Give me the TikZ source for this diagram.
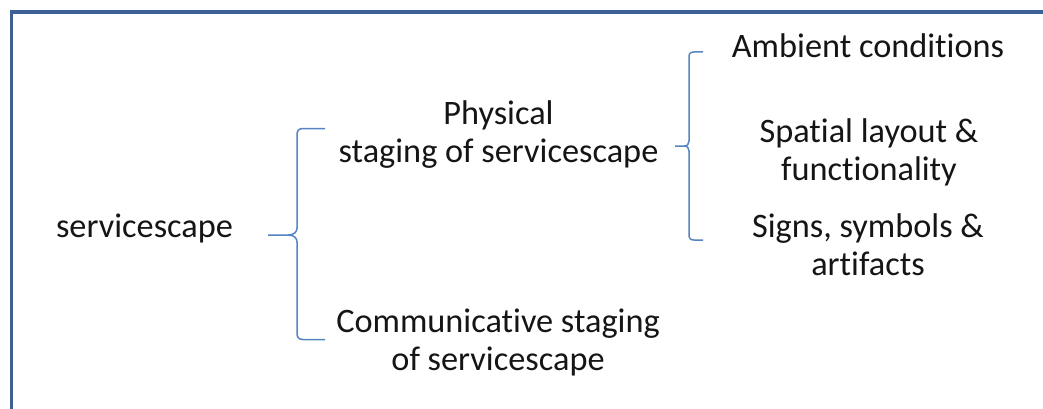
\documentclass[tikz,border=0pt]{standalone}
\usepackage{fontspec}
\setmainfont[Ligatures={NoCommon}]{Carlito}
\definecolor{framec}{HTML}{3D6197}
\definecolor{bracec}{HTML}{5584C2}
\definecolor{inkc}{HTML}{151515}
\begin{document}
\begin{tikzpicture}[x=1pt,y=-1pt,
  lbl/.style={inner sep=0pt, anchor=base, align=center, text=inkc,
    font=\fontsize{34.3}{38}\selectfont},
  bracket/.style={draw=bracec, line width=1.5pt, line join=round},
  frameline/.style={draw=framec, line width=3.2pt}]
\useasboundingbox (0,0) rectangle (1043,409);
\clip (0,0) rectangle (1043,409);
% outer frame (only its top and left sides fall inside the page)
\draw[frameline] (1060,12) -- (11.5,12) -- (11.5,430);

% texts (for two-line labels the base anchor sits on the last line)
\node[lbl] (root) at (144.5,237) {servicescape};
\node[lbl] (phys) at (498.5,162) {Physical\\staging of servicescape};
\node[lbl] (comm) at (498,370) {Communicative staging\\of servicescape};
\node[lbl] (amb)  at (868,58)  {Ambient conditions};
\node[lbl] (spat) at (869,180) {Spatial layout \&\\functionality};
\node[lbl] (sign) at (868,275) {Signs, symbols \&\\artifacts};

% brace joining the root to its two kinds of staging
\coordinate (b1top) at (325,128.5);
\coordinate (b1bot) at (325,339.5);
\coordinate (b1tip) at (268,235);
\draw[bracket] (b1top) -- (303,128.5) .. controls (299,128.5) and (297,130.5) .. (297,134.5)
  -- (297,228) .. controls (297,232) and (294,235) .. (288,235) -- (b1tip);
\draw[bracket] (288,235) .. controls (294,235) and (297,238) .. (297,242)
  -- (297,333.5) .. controls (297,337.5) and (299,339.5) .. (303,339.5) -- (b1bot);

% brace joining physical staging to its three dimensions
\coordinate (b2top) at (703,52);
\coordinate (b2bot) at (703,240);
\coordinate (b2tip) at (675,146);
\draw[bracket] (b2top) -- (694,52) .. controls (690.5,52) and (689,53.5) .. (689,57)
  -- (689,141) .. controls (689,144) and (687.5,146) .. (684,146) -- (b2tip);
\draw[bracket] (684,146) .. controls (687.5,146) and (689,148) .. (689,151)
  -- (689,235) .. controls (689,238.5) and (690.5,240) .. (694,240) -- (b2bot);
\end{tikzpicture}
\end{document}
